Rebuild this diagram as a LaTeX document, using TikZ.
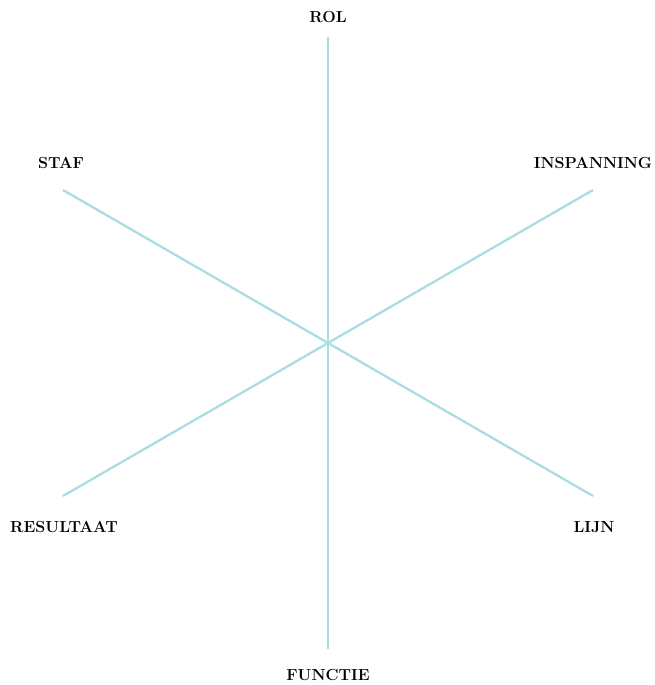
\documentclass[tikz,border=0pt]{standalone}
\usepackage{xcolor}
\usepackage{tikz}
\usetikzlibrary{positioning}
\definecolor{SpokeBlue}{RGB}{170,221,226}

\begin{document}
\begin{tikzpicture}[x=1pt, y=1pt,
          spoke/.style={draw=SpokeBlue, line width=2.3pt},
          lbl/.style={font=\fontsize{16}{19}\selectfont\bfseries,
                      inner sep=0pt, text=black}
        ]
        \useasboundingbox (-328,-342) rectangle (327,343);
        % hub and spoke ends
        \coordinate (hub) at (0,0);
        \coordinate (rolE)  at (90:306);
        \coordinate (inspE) at (30:306);
        \coordinate (lijnE) at (-30:306);
        \coordinate (funcE) at (-90:306);
        \coordinate (resE)  at (210:306);
        \coordinate (stafE) at (150:306);
        \draw[spoke] (rolE)--(funcE);
        \draw[spoke] (stafE)--(lijnE);
        \draw[spoke] (resE)--(inspE);

        % labels
        \node[lbl] (rol)  at (0, 326)     {ROL};
        \node[lbl] (staf) at (-267, 180)  {STAF};
        \node[lbl] (insp) at (265, 180)   {INSPANNING};
        \node[lbl] (res)  at (-264, -184) {RESULTAAT};
        \node[lbl] (lijn) at (266, -184)  {LIJN};
        \node[lbl] (func) at (0, -332)    {FUNCTIE};
      \end{tikzpicture}
\end{document}
